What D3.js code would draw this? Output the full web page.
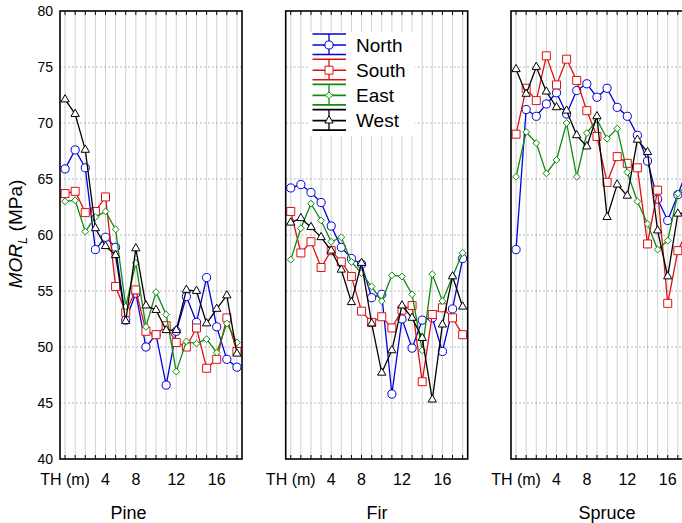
<!DOCTYPE html>
<html><head><meta charset="utf-8">
<script src="https://cdn.jsdelivr.net/npm/d3@7"></script>
<style>body{margin:0;background:#fff}svg{display:block;font-family:Arial,"Liberation Sans",sans-serif}</style>
</head><body>
<svg id="c" width="682" height="523"></svg>
<script>
// ---------- data ----------
const categories = ["1","2","3","4","5","6","7","8","9","10","11","12","13","14","15","16","17","18"];
const tickCats   = ["1","5","8","12","16"];
const tickTexts  = ["TH (m)","4","8","12","16"];
const yTicks = [40,45,50,55,60,65,70,75,80];
const species = ["Pine","Fir","Spruce"];
const directions = ["North","South","East","West"];
const colors = ["#0000dd","#e01010","#108a10","#000000"];

const pineNorth = [65.9,67.6,66.0,58.7,59.8,58.9,52.4,54.8,50.0,51.1,46.6,51.4,54.5,52.2,56.2,51.8,48.9,48.2];
const pineSouth = [63.7,63.9,62.0,62.1,63.4,55.4,53.1,55.1,51.4,51.1,51.9,50.4,50.0,51.7,48.1,48.9,52.6,49.6];
const pineEast  = [63.0,63.1,60.3,61.6,62.1,60.5,53.6,57.5,51.8,54.9,52.9,47.8,50.5,50.3,50.7,49.5,52.1,50.4];
const pineWest  = [72.1,70.8,67.6,60.6,59.0,58.2,52.3,58.8,53.7,53.3,51.5,51.5,55.1,55.0,52.1,53.4,54.6,49.4];

const firNorth = [64.2,64.5,63.8,62.9,60.8,58.9,57.9,57.4,54.4,54.7,45.8,52.5,49.9,52.4,52.6,49.6,53.4,57.9];
const firSouth = [62.1,58.4,59.4,57.1,58.6,57.6,56.3,53.2,52.2,52.7,51.7,53.3,53.7,46.9,52.9,53.5,52.6,51.1];
const firEast  = [57.8,60.6,62.8,61.3,59.4,59.8,57.6,56.6,55.4,54.1,56.4,56.3,54.7,49.7,56.5,54.1,56.3,58.4];
const firWest  = [61.1,61.5,60.7,59.8,58.6,56.9,54.0,57.5,52.1,47.7,49.7,53.7,52.6,50.8,45.3,52.0,56.3,53.6];

const spruceNorth = [58.7,71.2,70.6,71.7,72.7,70.8,72.9,73.5,72.3,73.1,71.4,70.6,68.9,66.6,63.2,61.3,63.6,66.0];
const spruceSouth = [69.0,73.1,72.0,76.0,73.4,75.7,73.8,71.1,68.8,64.7,67.0,66.4,66.0,59.2,64.0,53.9,58.6,60.5];
const spruceEast  = [65.2,69.2,68.2,65.5,66.7,70.0,65.2,69.1,70.3,68.6,69.5,65.6,63.0,61.0,58.7,59.5,63.7,64.5];
const spruceWest  = [74.8,72.6,75.0,72.8,71.4,71.1,68.9,67.9,70.6,61.6,64.5,63.5,68.5,67.4,60.4,56.3,61.9,62.0];

const seriesBySpecies = [
  [pineNorth, pineSouth, pineEast, pineWest],
  [firNorth, firSouth, firEast, firWest],
  [spruceNorth, spruceSouth, spruceEast, spruceWest]
];

// ---------- layout ----------
const svg = d3.select("#c");
const panelLefts = [60, 285.7, 511];
const panelW = 182;
const plotTop = 11, plotBottom = 459;
const titleX = [128.5, 377, 607];

const y = d3.scaleLinear().domain([40,80]).range([plotBottom, plotTop]);

function markerPath(k){
  if (k===0) return d3.symbol(d3.symbolCircle, 52)();
  if (k===1) return d3.symbol(d3.symbolSquare, 64)();
  if (k===2) return "M0,-3.4L3.4,0L0,3.4L-3.4,0Z";
  return d3.symbol(d3.symbolTriangle, 30)();
}

species.forEach((sp, p) => {
  const left = panelLefts[p];
  const x = d3.scalePoint().domain(categories).range([left, left+panelW]).padding(0.5);
  const g = svg.append("g");

  g.selectAll(".vg").data(categories).join("line")
    .attr("x1", d=>x(d)).attr("x2", d=>x(d)).attr("y1", plotTop).attr("y2", plotBottom)
    .attr("stroke", "#d2d2d2").attr("stroke-width", 1);
  g.selectAll(".hg").data(yTicks.slice(1,-1)).join("line")
    .attr("x1", left).attr("x2", left+panelW).attr("y1", d=>y(d)).attr("y2", d=>y(d))
    .attr("stroke", "#b8b8b8").attr("stroke-dasharray","2,2").attr("stroke-width",1);

  g.selectAll(".tt").data(categories).join("line")
    .attr("x1", d=>x(d)).attr("x2", d=>x(d)).attr("y1", plotTop).attr("y2", plotTop+4)
    .attr("stroke","#000");
  g.selectAll(".tb").data(categories).join("line")
    .attr("x1", d=>x(d)).attr("x2", d=>x(d)).attr("y1", plotBottom).attr("y2", plotBottom-4)
    .attr("stroke","#000");

  const line = d3.line().x((d,i)=>x(categories[i])).y(d=>y(d));
  seriesBySpecies[p].forEach((vals, k) => {
    g.append("path").datum(vals).attr("d", line)
      .attr("fill","none").attr("stroke", colors[k]).attr("stroke-width",1.3);
    g.selectAll(".m"+k).data(vals).join("path")
      .attr("transform",(d,i)=>`translate(${x(categories[i])},${y(d)})`)
      .attr("d", markerPath(k))
      .attr("fill","#fff").attr("stroke", colors[k]).attr("stroke-width",1);
  });

  g.append("rect").attr("x",left).attr("y",plotTop).attr("width",panelW).attr("height",plotBottom-plotTop)
    .attr("fill","none").attr("stroke","#000").attr("stroke-width",1.6);

  g.selectAll(".xl").data(tickCats).join("text")
    .attr("x", d=>x(d)).attr("y", 485).attr("text-anchor","middle")
    .attr("font-size",16).attr("fill","#000")
    .text((d,i)=>tickTexts[i]);

  g.append("text").attr("x", titleX[p]).attr("y", 519).attr("text-anchor","middle")
    .attr("font-size",18).text(sp);

  if (p===0){
    const ya = d3.axisLeft(y).tickValues(yTicks).tickSize(0).tickPadding(7);
    const ag = g.append("g").attr("transform",`translate(${left},0)`).call(ya);
    ag.select(".domain").remove();
    ag.selectAll("text").attr("font-size",14).attr("font-family","Arial, 'Liberation Sans', sans-serif").attr("fill","#000");
  }

  if (p===1){
    const lg = svg.append("g");
    lg.append("rect").attr("x",310).attr("y",32).attr("width",105).attr("height",104).attr("fill","#fff");
    directions.forEach((name,k)=>{
      const cy = 45 + k*25.2;
      const gi = lg.append("g").attr("transform",`translate(329,${cy})`);
      [-11,0,9.5].forEach(dy=>gi.append("line").attr("x1",-16.5).attr("x2",17).attr("y1",dy).attr("y2",dy)
        .attr("stroke",colors[k]).attr("stroke-width",1.6));
      gi.append("line").attr("x1",0).attr("x2",0).attr("y1",-11).attr("y2",9.5).attr("stroke",colors[k]).attr("stroke-width",1.3);
      gi.append("path").attr("d",markerPath(k)).attr("fill","#fff").attr("stroke",colors[k]);
      lg.append("text").attr("x",356).attr("y",cy).attr("dy","0.36em").attr("font-size",19).text(name);
    });
  }
});

const yt = svg.append("text").attr("transform","translate(22,234) rotate(-90)")
  .attr("text-anchor","middle").attr("font-size",19);
yt.append("tspan").attr("font-style","italic").text("MOR");
yt.append("tspan").attr("font-style","italic").attr("font-size",13).attr("dy",5).text("L");
yt.append("tspan").attr("dy",-5).text(" (MPa)");
</script>
</body></html>
